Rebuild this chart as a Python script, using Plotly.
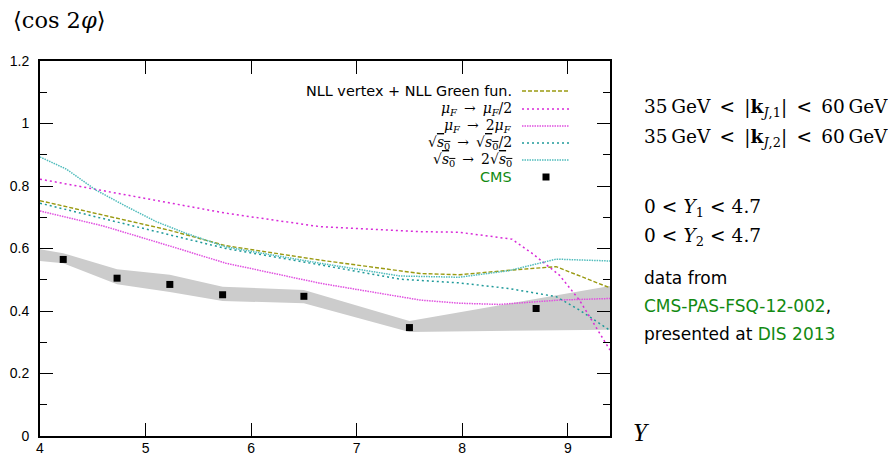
import plotly.graph_objects as go

# ---- data -------------------------------------------------------------
# CMS measurement and its uncertainty band
cms_x = [4.22, 4.73, 5.23, 5.73, 6.5, 7.5, 8.7]
cms_y = [0.565, 0.505, 0.485, 0.452, 0.447, 0.347, 0.408]

band_x = [4.0, 4.22, 4.73, 5.23, 5.73, 6.5, 7.5, 8.7, 9.4]
band_hi = [0.598, 0.585, 0.534, 0.516, 0.478, 0.467, 0.368, 0.44, 0.48]
band_lo = [0.560, 0.553, 0.486, 0.461, 0.432, 0.425, 0.333, 0.336, 0.34]

# NLL vertex + NLL Green function, central scales
nll_x = [4.0, 4.6, 5.22, 5.76, 6.65, 7.6, 7.97, 8.47, 8.89, 9.4]
nll_y = [0.753, 0.707, 0.659, 0.609, 0.563, 0.520, 0.516, 0.531, 0.542, 0.474]

# mu_F -> mu_F / 2
muf_half_x = [4.0, 5.76, 6.65, 7.6, 7.97, 8.19, 8.47, 8.66, 8.92, 9.11, 9.4]
muf_half_y = [0.822, 0.713, 0.670, 0.654, 0.652, 0.643, 0.630, 0.585, 0.515, 0.435, 0.275]

# mu_F -> 2 mu_F
muf_two_x = [4.0, 4.6, 5.22, 5.76, 6.65, 7.6, 7.97, 8.35, 8.92, 9.4]
muf_two_y = [0.720, 0.672, 0.609, 0.553, 0.489, 0.435, 0.425, 0.421, 0.435, 0.440]

# sqrt(s0) -> sqrt(s0) / 2
s0_half_x = [4.0, 5.76, 6.65, 7.41, 7.97, 8.44, 8.89, 9.11, 9.4]
s0_half_y = [0.745, 0.600, 0.548, 0.502, 0.490, 0.472, 0.446, 0.403, 0.338]

# sqrt(s0) -> 2 sqrt(s0)
s0_two_x = [4.0, 4.25, 4.53, 4.81, 5.1, 5.38, 5.76, 6.65, 7.41, 7.97, 8.44, 8.89, 9.4]
s0_two_y = [0.893, 0.854, 0.787, 0.736, 0.686, 0.649, 0.605, 0.553, 0.512, 0.508, 0.529, 0.566, 0.560]

y_ticks = [0, 0.2, 0.4, 0.6, 0.8, 1.0, 1.2]
y_tick_text = ["0", "0.2", "0.4", "0.6", "0.8", "1", "1.2"]
x_ticks = [4, 5, 6, 7, 8, 9]

# ---- styles -----------------------------------------------------------
C_NLL = "#9a9a12"
C_MUF_HALF = "#d82ad8"
C_MUF_TWO = "#e050e0"
C_S0_HALF = "#1f9a9a"
C_S0_TWO = "#50bcbc"
C_GREEN = "#128a12"
SERIF = "DejaVu Serif"
SANS = "DejaVu Sans"

series = [
    ("NLL vertex + NLL Green fun.", nll_x, nll_y, C_NLL, "4px,2px", 1.4),
    ("mu_F/2", muf_half_x, muf_half_y, C_MUF_HALF, "2px,3px", 1.5),
    ("2mu_F", muf_two_x, muf_two_y, C_MUF_TWO, "1.5px,1px", 1.5),
    ("sqrt_s0/2", s0_half_x, s0_half_y, C_S0_HALF, "2px,3px", 1.5),
    ("2sqrt_s0", s0_two_x, s0_two_y, C_S0_TWO, "1.5px,1px", 1.5),
]

fig = go.Figure()

# uncertainty band of the measurement
fig.add_trace(go.Scatter(x=band_x, y=band_hi, mode="lines", line=dict(width=0),
                         hoverinfo="skip", showlegend=False))
fig.add_trace(go.Scatter(x=band_x, y=band_lo, mode="lines", line=dict(width=0),
                         fill="tonexty", fillcolor="#cccccc",
                         hoverinfo="skip", showlegend=False))

for name, xs, ys, col, dash, lw in series:
    fig.add_trace(go.Scatter(x=xs, y=ys, mode="lines", name=name,
                             line=dict(color=col, width=lw, dash=dash),
                             showlegend=False))

fig.add_trace(go.Scatter(x=cms_x, y=cms_y, mode="markers", name="CMS",
                         marker=dict(symbol="square", size=7, color="black"),
                         showlegend=False))

# ---- hand-made key ------------------------------------------------------
def px_x(p):
    return (p - 40) / 570.0


def px_y(p):
    return (436 - p) / 375.0


OVL = "<span style='text-decoration:overline'><i>s</i><sub>0</sub></span>"
ARR = "\u2002→\u2002"
key_rows = [91, 109, 126, 143, 160, 177]
key_labels = [
    "NLL vertex + NLL Green fun.",
    "<i>μ</i><sub><i>F</i></sub>" + ARR + "<i>μ</i><sub><i>F</i></sub>/2",
    "<i>μ</i><sub><i>F</i></sub>" + ARR + "2<i>μ</i><sub><i>F</i></sub>",
    "√" + OVL + ARR + "√" + OVL + "/2",
    "√" + OVL + ARR + "2√" + OVL,
]
annotations = []
shapes = []
for i, (lab, row) in enumerate(zip(key_labels, key_rows[:5])):
    fnt = dict(family=SANS, size=14.4, color="black") if i == 0 else dict(family=SERIF, size=14, color="black")
    annotations.append(dict(xref="paper", yref="paper", x=px_x(514), y=px_y(row),
                            xanchor="right", yanchor="middle", text=lab,
                            showarrow=False, font=fnt))
    col, dash, lw = series[i][3], series[i][4], series[i][5]
    shapes.append(dict(type="line", xref="paper", yref="paper",
                       x0=px_x(522), x1=px_x(569), y0=px_y(row), y1=px_y(row),
                       line=dict(color=col, width=lw, dash=dash)))

annotations.append(dict(xref="paper", yref="paper", x=px_x(514), y=px_y(177),
                        xanchor="right", yanchor="middle", text="CMS",
                        showarrow=False, font=dict(family=SANS, size=14.4, color=C_GREEN)))
shapes.append(dict(type="rect", xref="paper", yref="paper",
                   x0=px_x(542.5), x1=px_x(549.5), y0=px_y(180.5), y1=px_y(173.5),
                   fillcolor="black", line=dict(width=0)))

# axis titles
annotations.append(dict(xref="paper", yref="paper", x=px_x(11), y=px_y(20),
                        xanchor="left", yanchor="middle",
                        text="⟨cos 2<i>φ</i>⟩", showarrow=False,
                        font=dict(family=SERIF, size=22.5, color="black")))
annotations.append(dict(xref="paper", yref="paper", x=px_x(631), y=px_y(432),
                        xanchor="left", yanchor="middle", text="<i>Y</i>",
                        showarrow=False, font=dict(family="Liberation Serif", size=25, color="black")))

# cuts and data source
SP = "\u2002"
SP3 = "\u2004"
side = [
    (108, "35\u2009GeV" + SP + "<" + SP + "|<b>k</b><sub><i>J</i>,1</sub>|" + SP + "<" + SP + "60\u2009GeV", SERIF, 18.5, "black"),
    (138, "35\u2009GeV" + SP + "<" + SP + "|<b>k</b><sub><i>J</i>,2</sub>|" + SP + "<" + SP + "60\u2009GeV", SERIF, 18.5, "black"),
    (208, "0" + SP3 + "<" + SP3 + "<i>Y</i><sub>1</sub>" + SP3 + "<" + SP3 + "4.7", SERIF, 18.5, "black"),
    (237, "0" + SP3 + "<" + SP3 + "<i>Y</i><sub>2</sub>" + SP3 + "<" + SP3 + "4.7", SERIF, 18.5, "black"),
    (278, "data from", SANS, 17, "black"),
    (306, "<span style='color:%s'>CMS-PAS-FSQ-12-002</span>," % C_GREEN, SANS, 17, "black"),
    (334, "presented at <span style='color:%s'>DIS 2013</span>" % C_GREEN, SANS, 17, "black"),
]
for row, txt, fam, size, col in side:
    annotations.append(dict(xref="paper", yref="paper", x=px_x(642), y=px_y(row),
                            xanchor="left", yanchor="middle", text=txt,
                            showarrow=False, font=dict(family=fam, size=size, color=col)))

fig.update_layout(
    width=888, height=458,
    margin=dict(l=40, r=278, t=61, b=22, autoexpand=False),
    plot_bgcolor="white", paper_bgcolor="white",
    showlegend=False,
    annotations=annotations, shapes=shapes,
    font=dict(family="Liberation Sans", size=14, color="black"),
)
fig.update_xaxes(range=[4, 9.4], tickvals=x_ticks, ticks="inside", ticklen=13,
                 tickwidth=1.2, tickcolor="black", showline=True, linecolor="black",
                 linewidth=2, mirror="ticks", showgrid=False, zeroline=False,
                 automargin=False, ticklabelstandoff=-2,
                 tickfont=dict(family="Liberation Sans", size=14))
fig.update_yaxes(range=[0, 1.2], tickvals=y_ticks, ticktext=y_tick_text,
                 ticks="inside", ticklen=13, tickwidth=1.2, tickcolor="black",
                 minor=dict(dtick=0.1, ticks="inside", ticklen=7, tickcolor="black",
                            tickwidth=1.2, showgrid=False),
                 showline=True, linecolor="black", linewidth=2, mirror="ticks",
                 showgrid=False, zeroline=False, ticklabelstandoff=6,
                 automargin=False,
                 tickfont=dict(family="Liberation Sans", size=14))

fig.write_html("out.html")
